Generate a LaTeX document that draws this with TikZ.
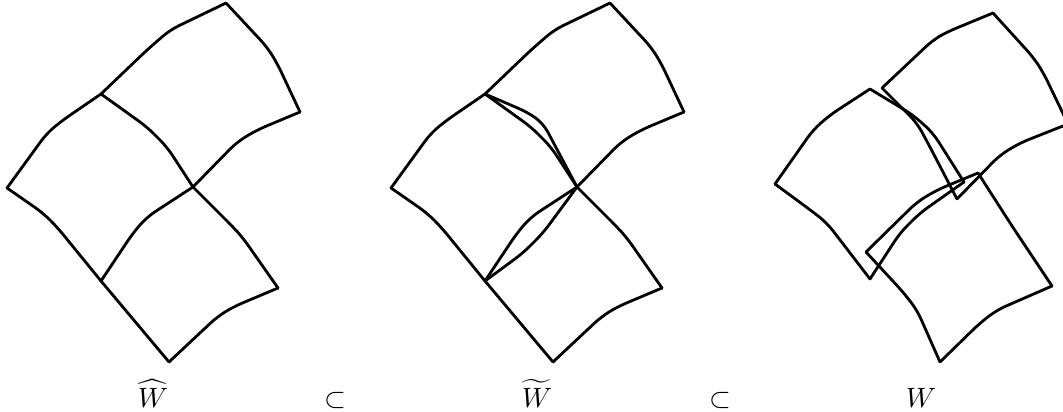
\documentclass[tikz,border=0pt]{standalone}
\usepackage{amsmath,amssymb}
\usepackage{tikz}
\tikzset{
  edge/.style={line width=1pt, line join=round, line cap=round, rounded corners=3.4pt},
  lab/.style={inner sep=0pt, anchor=base}
}

\begin{document}
\begin{tikzpicture}[x=.357pt,y=-.357pt]
  \clip (0,0) rectangle (1063,412);

  % first two panels share their outline
  \foreach \dx in {0,384} {
    \begin{scope}[shift={(\dx,0)}]
      \coordinate (top) at (226,3);
      \coordinate (right) at (300,112);
      \coordinate (up) at (101,94);
      \coordinate (mid) at (193,187);
      \coordinate (left) at (7,188);
      \coordinate (down) at (101,281);
      \coordinate (lowr) at (278,288);
      \coordinate (bot) at (169,362);
      \draw[edge] (up) -- (147,50) -- (170,30) -- (top);
      \draw[edge] (top) -- (267,47) -- (277,63) -- (right);
      \draw[edge] (right) -- (257,130) -- (237,142) -- (mid);
      \draw[edge] (mid) -- (167,147) -- (147,127) -- (up);
      \draw[edge] (up) -- (63,120) -- (47,133) -- (left);
      \draw[edge] (left) -- (43,213) -- (57,227) -- (down);
      \draw[edge] (down) -- (133,233) -- (147,217) -- (mid);
      \draw[edge] (mid) -- (233,227) -- (243,238) -- (lowr);
      \draw[edge] (lowr) -- (233,307) -- (217,317) -- (bot);
      \draw[edge] (bot) -- (down);
    \end{scope}
  }

  % lenses of the middle panel
  \begin{scope}[shift={(384,0)}]
    \draw[edge] (up) -- (143,112) -- (159,123) -- (mid);
    \draw[edge] (down) -- (139,253) -- (159,233) -- (mid);
  \end{scope}

  % right patch
  \coordinate (ra) at (882,88);
  \coordinate (rb) at (993,13);
  \coordinate (rc) at (1068,124);
  \coordinate (rd) at (957,199);
  \draw[edge] (ra) -- (933,40) -- (947,32) -- (rb);
  \draw[edge] (rb) -- (1033,57) -- (1043,72) -- (rc);
  \draw[edge] (rc) -- (1020,143) -- (1000,155) -- (rd);
  \draw[edge] (rd) -- (930,147) -- (917,123) -- (ra);

  % left patch
  \coordinate (la) at (870,89);
  \coordinate (lb) at (775,184);
  \coordinate (lc) at (870,279);
  \coordinate (ld) at (964,182);
  \draw[edge] (la) -- (830,115) -- (813,130) -- (lb);
  \draw[edge] (lb) -- (813,212) -- (827,223) -- (lc);
  \draw[edge] (lc) -- (900,233) -- (920,213) -- (ld);
  \draw[edge] (ld) -- (933,133) -- (913,115) -- (la);

  % lower patch
  \coordinate (ba) at (866,252);
  \coordinate (bb) at (978,173);
  \coordinate (bc) at (1052,286);
  \coordinate (bd) at (940,362);
  \draw[edge] (ba) -- (917,202) -- (937,190) -- (bb);
  \draw[edge] (bb) -- (1012,226) -- (1022,241) -- (bc);
  \draw[edge] (bc) -- (997,310) -- (980,323) -- (bd);
  \draw[edge] (bd) -- (917,310) -- (903,292) -- (ba);

  \node[lab] (hatw) at (153,408) {$\widehat{W}$};
  \node[lab] (suba) at (335,408) {$\subset$};
  \node[lab] (tilw) at (537,408) {$\widetilde{W}$};
  \node[lab] (subb) at (720,408) {$\subset$};
  \node[lab] (plainw) at (921,408) {$W$};
\end{tikzpicture}
\end{document}
